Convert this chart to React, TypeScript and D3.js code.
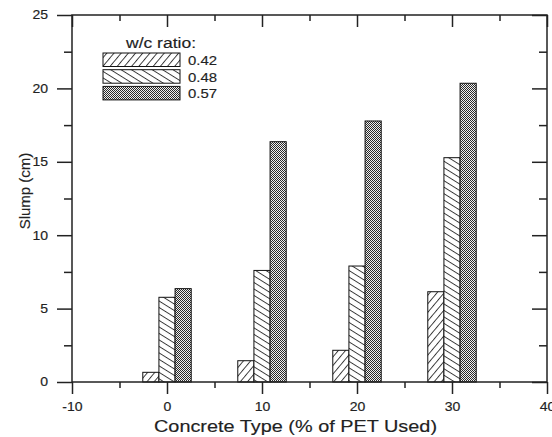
import React, { useEffect, useRef } from 'react';
import * as d3 from 'd3';

const categories = [0, 10, 20, 30];
const ratios = ['0.42', '0.48', '0.57'];
const slump042 = [0.66, 1.45, 2.16, 6.15];
const slump048 = [5.77, 7.6, 7.9, 15.28];
const slump057 = [6.36, 16.37, 17.78, 20.35];
const xTicks = [-10, 0, 10, 20, 30, 40];
const xMinor = [-5, 5, 15, 25, 35];
const yTicks = [0, 5, 10, 15, 20, 25];
const yMinor = [2.5, 7.5, 12.5, 17.5, 22.5];

const W = 552;
const H = 437;
const plot = { left: 72, right: 547, top: 15, bottom: 382 };
const barW = 1.7;
const font = 'Arial, "Liberation Sans", sans-serif';
const ink = '#222';
const stretch = 1.17;
const bold = 0.15;

const series = [slump042, slump048, slump057];
const fills = ['url(#p042)', 'url(#p048)', 'url(#p057)'];

const App: React.FC = () => {
  const ref = useRef<SVGSVGElement>(null);

  useEffect(() => {
    if (!ref.current) return;
    const svg = d3.select(ref.current);
    svg.selectAll('*').remove();

    const defs = svg.append('defs');
    const hatch = (id: string, gap: number, angle: number) =>
      defs
        .append('pattern')
        .attr('id', id)
        .attr('patternUnits', 'userSpaceOnUse')
        .attr('width', 10)
        .attr('height', gap)
        .attr('patternTransform', `rotate(${angle})`)
        .call((p) => {
          p.append('rect').attr('width', 10).attr('height', gap).attr('fill', '#fff');
          p.append('line')
            .attr('x1', 0)
            .attr('x2', 10)
            .attr('y1', 0.5)
            .attr('y2', 0.5)
            .attr('stroke', '#222')
            .attr('stroke-width', 0.9);
        });
    hatch('p042', 5.5, -50);
    hatch('p048', 5.5, 32);
    defs
      .append('pattern')
      .attr('id', 'p057')
      .attr('patternUnits', 'userSpaceOnUse')
      .attr('width', 2)
      .attr('height', 2)
      .call((p) => {
        p.append('rect').attr('width', 2).attr('height', 2).attr('fill', '#f0f0f0');
        p.append('rect').attr('width', 1).attr('height', 1).attr('fill', '#2a2a2a');
        p.append('rect').attr('x', 1).attr('y', 1).attr('width', 1).attr('height', 1).attr('fill', '#2a2a2a');
      });

    const x = d3.scaleLinear().domain([-10, 40]).range([plot.left, plot.right]);
    const y = d3.scaleLinear().domain([0, 25]).range([plot.bottom, plot.top]);

    // bars
    series.forEach((vals, si) => {
      svg
        .append('g')
        .selectAll('rect')
        .data(vals)
        .enter()
        .append('rect')
        .attr('x', (d, i) => x(categories[i] + (si - 1) * barW - barW / 2))
        .attr('width', x(barW) - x(0))
        .attr('y', (d) => y(d))
        .attr('height', (d) => y(0) - y(d))
        .attr('fill', fills[si])
        .attr('stroke', '#111')
        .attr('stroke-width', 1);
    });

    const styleAxis = (g: any) => {
      g.selectAll('.domain').remove();
      g.selectAll('.tick line').attr('stroke', ink).attr('stroke-width', 1.5);
      g.selectAll('text')
        .attr('fill', ink)
        .attr('stroke', ink)
        .attr('stroke-width', bold)
        .style('font-family', font)
        .style('font-size', '12px');
    };
    const fmt = (d: any) => String(d);

    // bottom
    svg
      .append('g')
      .attr('transform', `translate(0,${plot.bottom})`)
      .call(d3.axisBottom(x).tickValues(xTicks).tickSize(12).tickPadding(8).tickFormat(fmt))
      .call(styleAxis)
      .call((g) => g.selectAll('text').attr('transform', `scale(${stretch},1)`));
    svg
      .append('g')
      .attr('transform', `translate(0,${plot.bottom})`)
      .call(d3.axisBottom(x).tickValues(xMinor).tickSize(6).tickFormat(() => ''))
      .call(styleAxis);
    // top
    svg
      .append('g')
      .attr('transform', `translate(0,${plot.top})`)
      .call(d3.axisBottom(x).tickValues(xTicks).tickSize(12).tickFormat(() => ''))
      .call(styleAxis);
    svg
      .append('g')
      .attr('transform', `translate(0,${plot.top})`)
      .call(d3.axisBottom(x).tickValues(xMinor).tickSize(6).tickFormat(() => ''))
      .call(styleAxis);
    // left
    svg
      .append('g')
      .attr('transform', `translate(${plot.left},0)`)
      .call(d3.axisLeft(y).tickValues(yTicks).tickSize(15).tickFormat(fmt))
      .call(styleAxis)
      .call((g) =>
        g
          .selectAll('text')
          .attr('x', -24 / stretch)
          .attr('transform', `scale(${stretch},1)`)
      );
    svg
      .append('g')
      .attr('transform', `translate(${plot.left},0)`)
      .call(d3.axisLeft(y).tickValues(yMinor).tickSize(8).tickFormat(() => ''))
      .call(styleAxis);
    // right
    svg
      .append('g')
      .attr('transform', `translate(${plot.right},0)`)
      .call(d3.axisLeft(y).tickValues(yTicks).tickSize(15).tickFormat(() => ''))
      .call(styleAxis);
    svg
      .append('g')
      .attr('transform', `translate(${plot.right},0)`)
      .call(d3.axisLeft(y).tickValues(yMinor).tickSize(8).tickFormat(() => ''))
      .call(styleAxis);

    // frame
    svg
      .append('rect')
      .attr('x', plot.left)
      .attr('y', plot.top)
      .attr('width', plot.right - plot.left)
      .attr('height', plot.bottom - plot.top)
      .attr('fill', 'none')
      .attr('stroke', ink)
      .attr('stroke-width', 1.5);

    const label = (g: any, tx: number, ty: number, txt: string, size: number, len: number) =>
      g
        .append('text')
        .attr('x', tx)
        .attr('y', ty)
        .attr('fill', ink)
        .attr('stroke', ink)
        .attr('stroke-width', bold)
        .attr('textLength', len)
        .attr('lengthAdjust', 'spacingAndGlyphs')
        .style('font-family', font)
        .style('font-size', `${size}px`)
        .text(txt);

    // axis titles
    label(svg, 154, 432, 'Concrete Type (% of PET Used)', 16, 283);
    svg
      .append('text')
      .attr('transform', `translate(30,191) rotate(-90)`)
      .attr('text-anchor', 'middle')
      .attr('fill', ink)
      .attr('stroke', ink)
      .attr('stroke-width', bold)
      .style('font-family', font)
      .style('font-size', '15px')
      .text('Slump (cm)');

    // legend
    const lg = svg.append('g');
    label(lg, 126, 48, 'w/c ratio:', 14, 70);
    ratios.forEach((r, i) => {
      const ty = 53 + i * 16.7;
      lg.append('rect')
        .attr('x', 103)
        .attr('y', ty)
        .attr('width', 77)
        .attr('height', 13.5)
        .attr('fill', fills[i])
        .attr('stroke', '#111')
        .attr('stroke-width', 1);
      label(lg, 188, ty + 11.8, r, 13, 29);
    });
  }, []);

  return <svg ref={ref} width={W} height={H} style={{ position: 'absolute', left: 0, top: 0 }} />;
};

export default App;
